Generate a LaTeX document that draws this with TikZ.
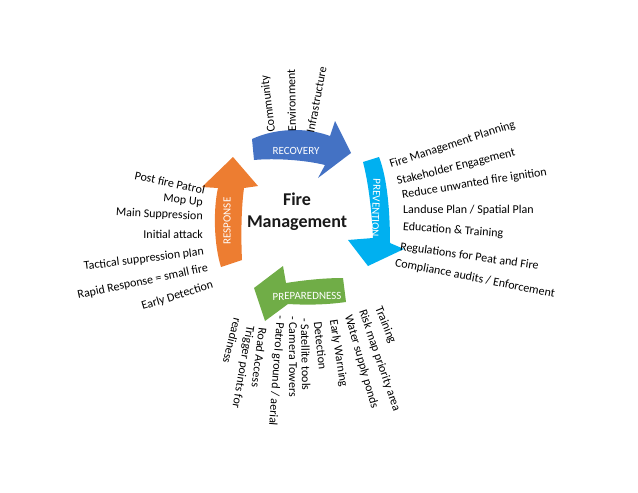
\documentclass[tikz,border=0pt]{standalone}
\usepackage{fontspec}
\setmainfont{Carlito}
\definecolor{recov}{HTML}{4472C4}
\definecolor{prevn}{HTML}{00B0F0}
\definecolor{prepd}{HTML}{70AD47}
\definecolor{respn}{HTML}{ED7D31}
\begin{document}
\begin{tikzpicture}[x=1pt,y=-1pt,every node/.style={inner sep=0pt},
  item/.style={font=\fontsize{12}{14}\selectfont},
  stage/.style={font=\fontsize{11}{13}\selectfont,text=white}]
\useasboundingbox (0,0) rectangle (638,493);
% four cycle arrows
\fill[recov] (252,139) .. controls (265,133) and (280,130) .. (295,130) .. controls (310,130) and (322,133) .. (330,136) -- (335,121) -- (351,153) -- (318,178) -- (325,165) .. controls (305,160) and (275,158) .. (254,160) -- cycle;
\fill[prevn] (379,157) .. controls (385,172) and (390,200) .. (390,243) -- (404,249) -- (368,266) -- (348,240) -- (373,238) .. controls (372,215) and (369,185) .. (363,162) -- cycle;
\fill[prepd] (343,278) -- (346,302) .. controls (325,305) and (305,305) .. (288,304) -- (265,321) -- (254,288) -- (283,266) -- (286,283) .. controls (305,280) and (325,278) .. (343,278) -- cycle;
\fill[respn] (221,267) .. controls (214,245) and (213,210) .. (218,188) -- (202,187) -- (233,157) -- (258,186) -- (244,188) .. controls (241,210) and (241,240) .. (242,260) -- cycle;
\node[stage] (recovery) at (296,151) {RECOVERY};
\node[stage,rotate=-92] (prevention) at (376,208) {PREVENTION};
\node[stage,rotate=1] (preparedness) at (307,296) {PREPAREDNESS};
\node[stage,rotate=90] (response) at (227,221) {RESPONSE};
\node[font=\fontsize{18}{22}\selectfont\bfseries,align=center,text=black!90] (firemgmt) at (297,212) {Fire\\Management};
% recovery items
\foreach \txt/\px/\py/\ang [count=\k] in {Community/272/132/97,Environment/292/132/91,Infrastructure/310/133/79}
  {\node[item,anchor=west,rotate=\ang] (rec\k) at (\px,\py) {\txt};}
% prevention items
\foreach \txt/\px/\py/\ang [count=\k] in {Fire Management Planning/390/165/18,Stakeholder Engagement/397/182/14,Reduce unwanted fire ignition/402/195/9,{Landuse Plan / Spatial Plan}/403/210/0,Education \& Training/403/227/-4,Regulations for Peat and Fire/400/247/-8,{Compliance audits / Enforcement}/395/263/-11}
  {\node[item,anchor=west,rotate=\ang] (prv\k) at (\px,\py) {\txt};}
% preparedness items
\foreach \txt/\px/\py/\ang [count=\k] in {Training/378/307/-68,Risk map priority area/362/310/-71,Water supply ponds/348/315/-74,Early Warning/333/320/-81,Detection/318/322/-84,- Satellite tools/305/318/-89,- Camera Towers/293/316/-90,{- Patrol ground / aerial}/280/316/-94,Road Access/263/328/-97,Trigger points for/250/326/-100,readiness/238/318/-104}
  {\node[item,anchor=west,rotate=\ang] (prp\k) at (\px,\py) {\txt};}
% response items
\foreach \txt/\px/\py/\ang [count=\k] in {Post fire Patrol/205/190/-12,Mop Up/203/203/-6,Main Suppression/203/217/-3,Initial attack/203/234/0,Tactical suppression plan/204/252/7,Rapid Response = small fire/208/268/12,Early Detection/213/285/17}
  {\node[item,anchor=east,rotate=\ang] (rsp\k) at (\px,\py) {\txt};}
\end{tikzpicture}
\end{document}
